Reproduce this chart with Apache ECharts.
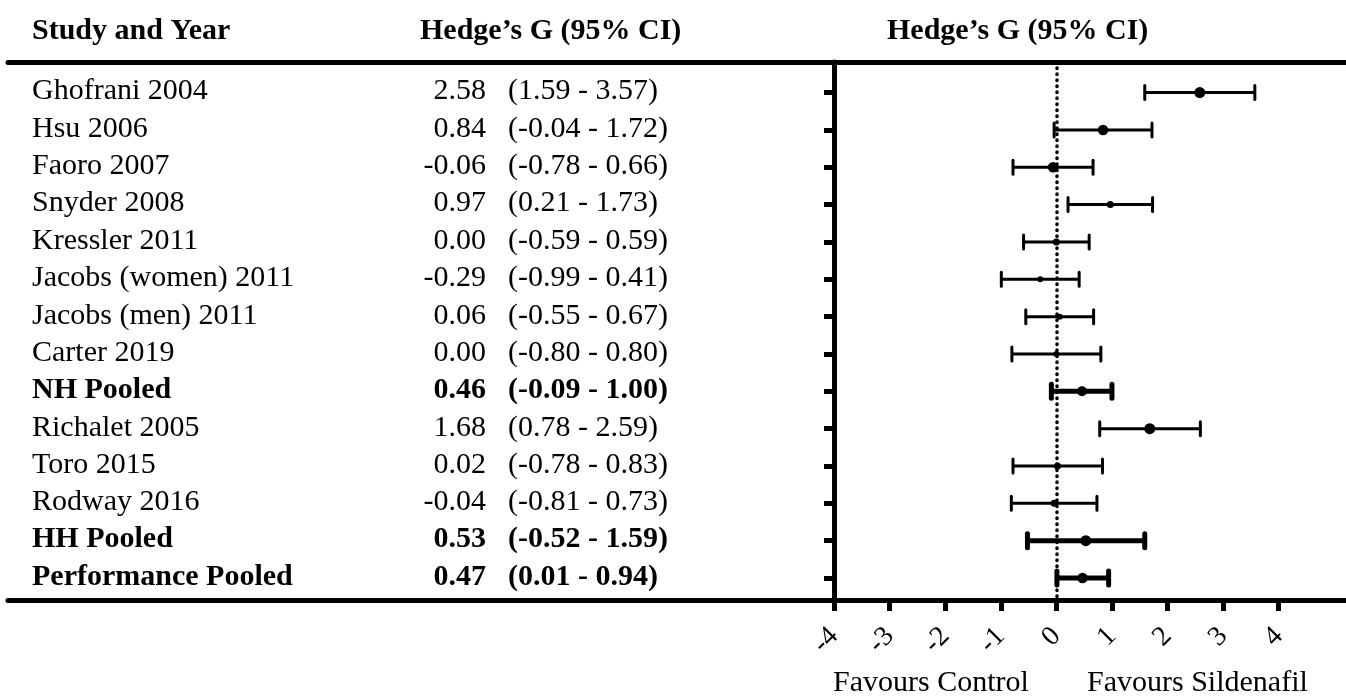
<!DOCTYPE html>
<html>
<head>
<meta charset="utf-8">
<script src="https://cdn.jsdelivr.net/npm/echarts@6/dist/echarts.min.js"></script>
<style>
html,body{margin:0;padding:0;background:#fff;}
#chart{width:1346px;height:697px;}
</style>
</head>
<body>
<div id="chart"></div>
<script>
// ---------- data ----------
const studies = [
  'Ghofrani 2004', 'Hsu 2006', 'Faoro 2007', 'Snyder 2008', 'Kressler 2011',
  'Jacobs (women) 2011', 'Jacobs (men) 2011', 'Carter 2019', 'NH Pooled',
  'Richalet 2005', 'Toro 2015', 'Rodway 2016', 'HH Pooled', 'Performance Pooled'
];
const hedgesG = [2.58, 0.84, -0.06, 0.97, 0.00, -0.29, 0.06, 0.00, 0.46, 1.68, 0.02, -0.04, 0.53, 0.47];
const ciLow   = [1.59, -0.04, -0.78, 0.21, -0.59, -0.99, -0.55, -0.80, -0.09, 0.78, -0.78, -0.81, -0.52, 0.01];
const ciHigh  = [3.57, 1.72, 0.66, 1.73, 0.59, 0.41, 0.67, 0.80, 1.00, 2.59, 0.83, 0.73, 1.59, 0.94];
const isPooled = [false, false, false, false, false, false, false, false, true, false, false, false, true, true];
const xTicks = [-4, -3, -2, -1, 0, 1, 2, 3, 4];
const headers = ['Study and Year', 'Hedge\u2019s G (95% CI)'];
const plotTitle = 'Hedge\u2019s G (95% CI)';
const favourLabels = ['Favours Control', 'Favours Sildenafil'];

// ---------- styles ----------
const dotSize = [11, 10.5, 10.5, 7, 7, 6, 6, 6, 10, 11, 7, 7, 11, 10.5];
const FONT = '"Liberation Serif", "Times New Roman", serif';
const rowIdx = studies.map((s, i) => i);
const Y_MIN = -0.82, Y_MAX = 13.59;

const chart = echarts.init(document.getElementById('chart'), null, {renderer: 'canvas'});

const ruleLine = {show: true, onZero: false, lineStyle: {color: '#000', width: 5, cap: 'round'}};

const option = {
  animation: false,
  backgroundColor: '#fff',
  grid: [
    {left: 8, width: 826, top: 62, bottom: 97},
    {left: 834, right: 0, top: 62, bottom: 97}
  ],
  xAxis: [
    {gridIndex: 0, type: 'value', min: 0, max: 826, position: 'bottom',
     axisLine: ruleLine, axisTick: {show: false}, axisLabel: {show: false}, splitLine: {show: false}},
    {gridIndex: 0, type: 'value', min: 0, max: 826, position: 'top',
     axisLine: ruleLine, axisTick: {show: false}, axisLabel: {show: false}, splitLine: {show: false}},
    {gridIndex: 1, type: 'value', min: -4, max: 5.21, position: 'bottom',
     axisLine: {show: true, onZero: false, lineStyle: {color: '#000', width: 5}},
     axisTick: {show: true, length: 11, customValues: xTicks, lineStyle: {color: '#000', width: 5}},
     axisLabel: {show: true, customValues: xTicks, rotate: 45, margin: 32,
       fontFamily: FONT, fontSize: 28, color: '#000'},
     splitLine: {show: false}},
    {gridIndex: 1, type: 'value', min: -4, max: 5.21, position: 'top',
     axisLine: {show: true, onZero: false, lineStyle: {color: '#000', width: 5}},
     axisTick: {show: false}, axisLabel: {show: false}, splitLine: {show: false}}
  ],
  yAxis: [
    {gridIndex: 0, type: 'value', inverse: true, min: Y_MIN, max: Y_MAX, show: false},
    {gridIndex: 1, type: 'value', inverse: true, min: Y_MIN, max: Y_MAX,
     axisLine: {show: true, onZero: false, lineStyle: {color: '#000', width: 5}},
     axisTick: {show: true, length: 10, customValues: rowIdx, lineStyle: {color: '#000', width: 5}},
     axisLabel: {show: false}, splitLine: {show: false}}
  ],
  graphic: [
    {type: 'text', left: 32, top: 16, style: {text: headers[0], fontFamily: FONT, fontSize: 30, fontWeight: 'bold', fill: '#000'}},
    {type: 'text', left: 420, top: 16, style: {text: headers[1], fontFamily: FONT, fontSize: 30, fontWeight: 'bold', fill: '#000'}},
    {type: 'text', left: 887, top: 16, style: {text: plotTitle, fontFamily: FONT, fontSize: 30, fontWeight: 'bold', fill: '#000'}},
    {type: 'text', left: 833, top: 668, style: {text: favourLabels[0], fontFamily: FONT, fontSize: 30, fill: '#000'}},
    {type: 'text', left: 1087, top: 668, style: {text: favourLabels[1], fontFamily: FONT, fontSize: 30, fill: '#000'}}
  ],
  series: [
    {
      type: 'custom',
      name: 'table',
      xAxisIndex: 0, yAxisIndex: 0,
      clip: false,
      data: studies.map((s, i) => [0, i]),
      renderItem: function (params, api) {
        const i = params.dataIndex;
        const r = api.value(1);
        const bold = isPooled[i] ? 'bold' : 'normal';
        const nameP = api.coord([24, r]);
        const estP = api.coord([478, r]);
        const g = hedgesG[i];
        const ciP = api.coord([500, r]);
        const base = {fontFamily: FONT, fontSize: 30, fontWeight: bold, fill: '#000', verticalAlign: 'middle'};
        return {
          type: 'group',
          children: [
            {type: 'text', style: Object.assign({}, base, {text: studies[i], x: nameP[0], y: nameP[1] - 1, align: 'left'})},
            {type: 'text', style: Object.assign({}, base, {text: g.toFixed(2), x: estP[0], y: estP[1] - 1, align: 'right'})},
            {type: 'text', style: Object.assign({}, base, {
              text: '(' + ciLow[i].toFixed(2) + ' - ' + ciHigh[i].toFixed(2) + ')',
              x: ciP[0], y: ciP[1] - 1, align: 'left'})}
          ]
        };
      }
    },
    {
      type: 'custom',
      name: 'forest',
      xAxisIndex: 2, yAxisIndex: 1,
      clip: false,
      data: studies.map((s, i) => [hedgesG[i], i, ciLow[i], ciHigh[i]]),
      encode: {x: [0, 2, 3], y: 1},
      renderItem: function (params, api) {
        const i = params.dataIndex;
        const r = api.value(1);
        const p = api.coord([api.value(0), r]);
        const lo = api.coord([api.value(2), r]);
        const hi = api.coord([api.value(3), r]);
        const w = isPooled[i] ? 5 : 3;
        const cap = 7;
        const ls = {stroke: '#000', lineWidth: w, lineCap: 'butt'};
        return {
          type: 'group',
          children: [
            {type: 'line', shape: {x1: lo[0], y1: p[1], x2: hi[0], y2: p[1]}, style: ls},
            {type: 'line', shape: {x1: lo[0], y1: p[1] - cap, x2: lo[0], y2: p[1] + cap}, style: {stroke: '#000', lineWidth: w, lineCap: 'round'}},
            {type: 'line', shape: {x1: hi[0], y1: p[1] - cap, x2: hi[0], y2: p[1] + cap}, style: {stroke: '#000', lineWidth: w, lineCap: 'round'}},
            {type: 'circle', shape: {cx: p[0], cy: p[1], r: dotSize[i] / 2}, style: {fill: '#000'}}
          ]
        };
      },
      markLine: {
        silent: true,
        symbol: ['none', 'none'],
        label: {show: false},
        z: 1,
        lineStyle: {color: '#000', width: 3.5, type: [0.5, 5.5], cap: 'round'},
        data: [{xAxis: 0}]
      }
    }
  ]
};
chart.setOption(option);
</script>
</body>
</html>
